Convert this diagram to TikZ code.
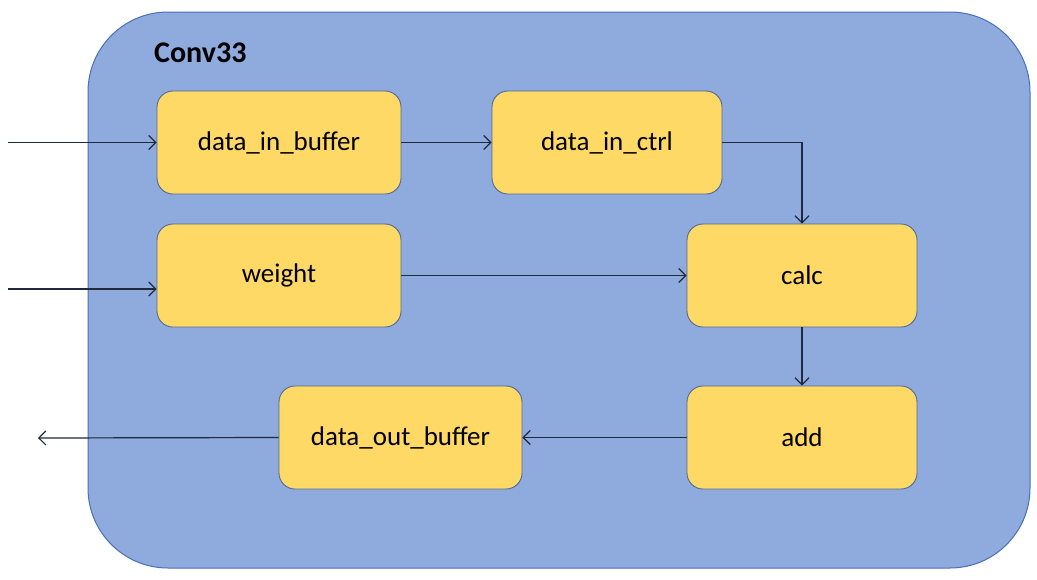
\documentclass[tikz,border=0pt]{standalone}
\usepackage{fontspec}
\setmainfont{Carlito}
\usetikzlibrary{arrows.meta}
\definecolor{outerfill}{HTML}{8FAADC}
\definecolor{outerline}{HTML}{4A6FB8}
\definecolor{boxfill}{HTML}{FFD966}
\definecolor{boxline}{HTML}{4F6A96}
\definecolor{arrowcol}{HTML}{1F2A3C}
\tikzset{
  block/.style={draw=boxline, fill=boxfill, line width=0.9pt, rounded corners=16pt,
    minimum height=103pt, font=\fontsize{27}{30}\selectfont, inner sep=0pt},
  conn/.style={draw=arrowcol, line width=1.2pt, -{Straight Barb[length=7pt,width=14pt,line width=1.2pt]}}
}
\begin{document}
\begin{tikzpicture}[x=1pt,y=-1pt]
\useasboundingbox (0,0) rectangle (1037,579);
\node[draw=outerline, fill=outerfill, line width=1pt, rounded corners=80pt,
  minimum width=942pt, minimum height=556pt, inner sep=0pt] (outer) at (559,290) {};
\node[font=\fontsize{30}{34}\selectfont\bfseries, anchor=west, inner sep=0pt] (title) at (154,53) {Conv33};
\node[block, minimum width=244pt] (dib) at (279,142.5) {data\_in\_buffer};
\node[block, minimum width=230pt] (dic) at (607,142.5) {data\_in\_ctrl};
\node[block, minimum width=244pt] (w) at (279,275.5) {weight};
\node[block, minimum width=230pt] (calc) at (802,275.5) {calc};
\node[block, minimum width=243pt] (dob) at (400.5,437.5) {data\_out\_buffer};
\node[block, minimum width=230pt] (add) at (802,437.5) {add};
\coordinate (in1) at (8,142.5);
\coordinate (in2) at (8,289);
\coordinate (out) at (38,438);
\draw[conn] (in1) -- (dib.west);
\draw[conn] (in2) -- (w.west |- in2);
\draw[conn] (dib) -- (dic);
\draw[conn] (dic.east) -| (calc.north);
\draw[conn] (w) -- (calc);
\draw[conn] (calc) -- (add);
\draw[conn] (add) -- (dob);
\draw[conn] (dob.west) -- (out);
\end{tikzpicture}
\end{document}
